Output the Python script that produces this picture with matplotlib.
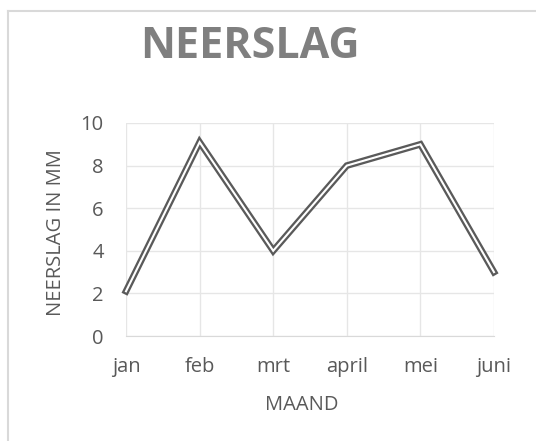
import matplotlib
matplotlib.use("Agg")
import matplotlib.pyplot as plt
from matplotlib.lines import Line2D

months = ["jan", "feb", "mrt", "april", "mei", "juni"]
rainfall = [2.1, 9.1, 4.0, 8.0, 9.0, 3.0]
yticks = [0, 2, 4, 6, 8, 10]

plt.rcParams['font.family'] = ['Open Sans', 'DejaVu Sans']

W, H = 536, 441
fig = plt.figure(figsize=(W / 100, H / 100), dpi=100)
ax = fig.add_axes([126 / W, (H - 336) / H, (494 - 126) / W, (336 - 123) / H])

x = list(range(len(months)))
ax.plot(x, rainfall, color="#5a5a5a", lw=4.8, solid_joinstyle="miter", zorder=3, clip_on=False)
ax.plot(x, rainfall, color="white", lw=1.5, solid_joinstyle="miter", zorder=4, clip_on=False)

ax.set_xlim(0, len(months) - 1)
ax.set_ylim(0, 10)
ax.set_xticks(x)
ax.set_xticklabels(months)
ax.set_yticks(yticks)
ax.grid(True, color="#e6e6e6", lw=1.0)
ax.set_axisbelow(True)
for s in ["top", "right", "left"]:
    ax.spines[s].set_visible(False)
ax.spines["bottom"].set_color("#d9d9d9")
ax.tick_params(axis="both", length=0, labelsize=14.5, colors="#595959")
ax.tick_params(axis="x", pad=15)
ax.tick_params(axis="y", pad=16)

fig.text(302 / W, 1 - 405 / H, "MAAND", ha="center", va="center", fontsize=14.5, color="#595959")
fig.text(56 / W, 1 - 233 / H, "NEERSLAG IN MM", ha="center", va="center", rotation=90,
         fontsize=14.5, color="#595959")
fig.text(250 / W, 1 - 47 / H, "NEERSLAG", ha="center", va="center", fontsize=31,
         fontweight="bold", color="#7f7f7f")

# chart-area border (left and top visible)
fig.add_artist(Line2D([8 / W, 8 / W], [0, 1 - 11 / H], transform=fig.transFigure, color="#d9d9d9", lw=1.5))
fig.add_artist(Line2D([8 / W, 1], [1 - 11 / H, 1 - 11 / H], transform=fig.transFigure, color="#d9d9d9", lw=1.5))

fig.savefig("out.png", dpi=100)
